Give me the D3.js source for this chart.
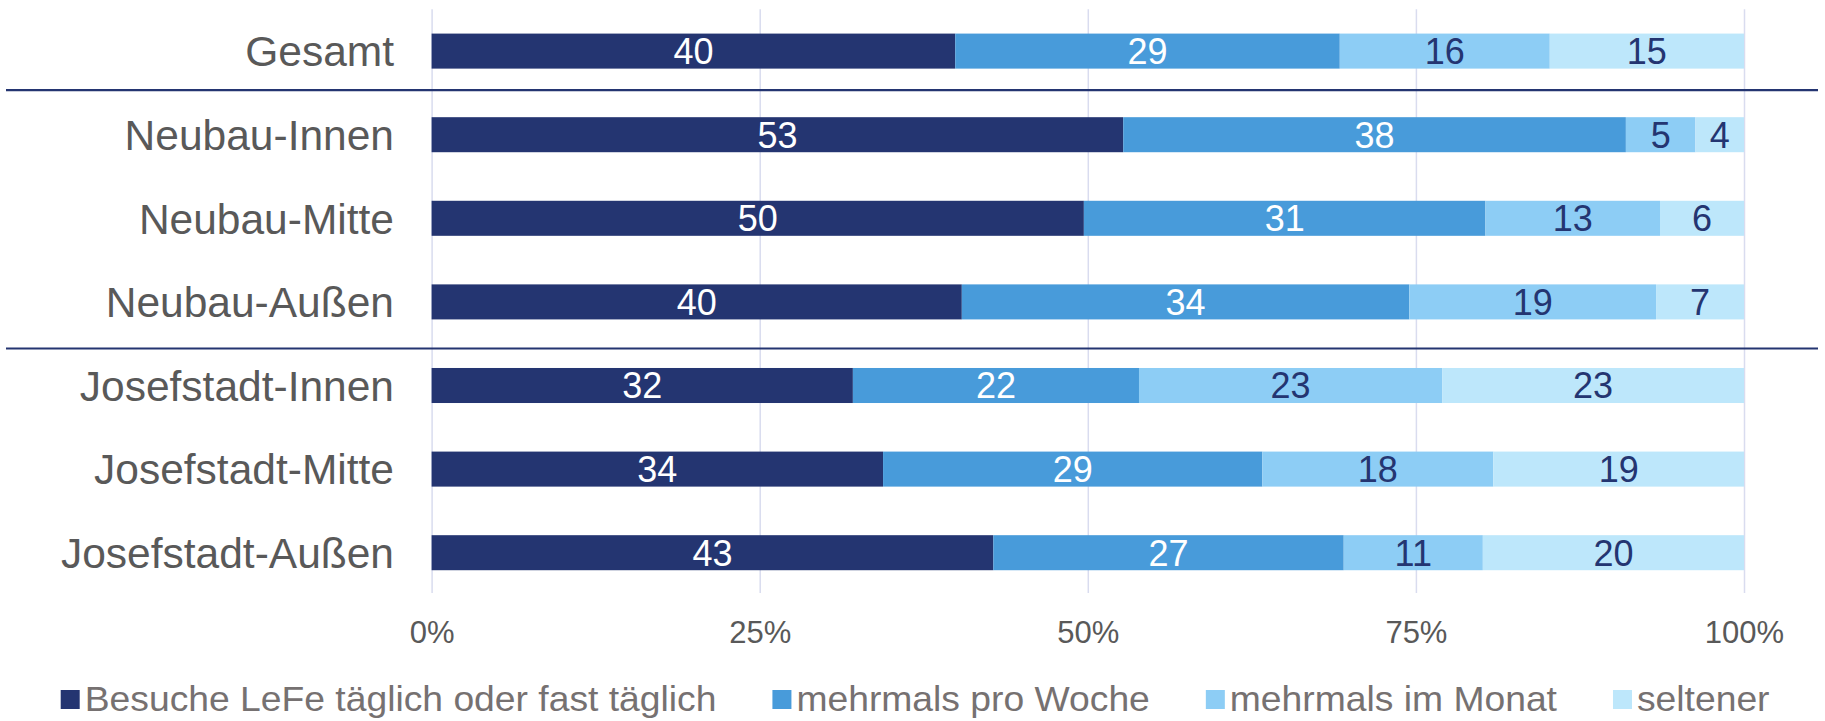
<!DOCTYPE html>
<html><head><meta charset="utf-8">
<script src="https://cdn.jsdelivr.net/npm/d3@7"></script>
<style>
html,body{margin:0;padding:0;background:#fff;}
svg{display:block;font-family:"Liberation Sans",Arial,sans-serif;}
</style></head>
<body>
<svg id="chart" width="1825" height="721"></svg>
<script>
// ---- data ----
const categories = ["Gesamt","Neubau-Innen","Neubau-Mitte","Neubau-Außen","Josefstadt-Innen","Josefstadt-Mitte","Josefstadt-Außen"];
const seriesNames = ["Besuche LeFe täglich oder fast täglich","mehrmals pro Woche","mehrmals im Monat","seltener"];
const taeglich  = [39.9, 52.7, 49.7, 40.4, 32.1, 34.4, 42.8];
const woche     = [29.3, 38.3, 30.6, 34.1, 21.8, 28.9, 26.7];
const monat     = [16.0,  5.3, 13.3, 18.8, 23.1, 17.6, 10.6];
const seltener  = [14.8,  3.7,  6.4,  6.7, 23.0, 19.1, 19.9];
const tickValues = [0, 25, 50, 75, 100];
const groupBreaks = ["Neubau-Innen", "Josefstadt-Innen"];

// ---- style ----
const colors = ["#243571", "#489bda", "#8dcdf5", "#bde7fb"];
const labelColors = ["#ffffff", "#ffffff", "#243571", "#243571"];

const svg = d3.select("#chart");
const keys = ["s0","s1","s2","s3"];
const seriesArrays = [taeglich, woche, monat, seltener];
const rows = categories.map((c, i) => {
  const r = {cat: c};
  keys.forEach((k, j) => r[k] = seriesArrays[j][i]);
  return r;
});
const stacked = d3.stack().keys(keys)(rows);

const x = d3.scaleLinear().domain([0, 100]).range([431.6, 1744]);
const y = d3.scaleBand().domain(categories).range([9.3, 594.5]).paddingInner(0.581).paddingOuter(0.2905);
const bw = y.bandwidth();
const gridBottom = 593;

// gridlines + x axis
const xAxis = d3.axisBottom(x).tickValues(tickValues).tickFormat(d => d + "%")
  .tickSizeInner(-(gridBottom - 9.3)).tickSizeOuter(0);
const gx = svg.append("g").attr("transform", `translate(0,${gridBottom})`).call(xAxis);
gx.select(".domain").remove();
gx.selectAll(".tick line").attr("stroke", "#d9dcef").attr("stroke-width", 1.5);
gx.selectAll(".tick text").attr("y", 49.7).attr("dy", 0)
  .attr("fill", "#595959").style("font-size", "31px").style("font-family", '"Liberation Sans",Arial,sans-serif');

// separators
const step = y.step();
groupBreaks.forEach((c, i) => {
  const mid = y(c) - (step - bw) / 2;
  const yy = mid + (i === 0 ? -2.8 : 4.8);
  svg.append("line").attr("x1", 6).attr("x2", 1818).attr("y1", yy).attr("y2", yy)
    .attr("stroke", "#243571").attr("stroke-width", 2.2);
});

// bars
const layers = svg.append("g").selectAll("g").data(stacked).join("g")
  .attr("fill", (d, i) => colors[i]);
layers.selectAll("rect").data(d => d).join("rect")
  .attr("x", d => x(d[0]))
  .attr("width", d => x(d[1]) - x(d[0]))
  .attr("y", d => y(d.data.cat))
  .attr("height", bw);

// value labels
stacked.forEach((layer, i) => {
  svg.append("g").selectAll("text").data(layer).join("text")
    .attr("x", d => (x(d[0]) + x(d[1])) / 2)
    .attr("y", d => y(d.data.cat) + bw / 2)
    .attr("dy", "0.36em")
    .attr("text-anchor", "middle")
    .attr("fill", labelColors[i])
    .style("font-size", "36px")
    .text(d => Math.round(d[1] - d[0]));
});

// category labels
svg.append("g").selectAll("text").data(categories).join("text")
  .attr("x", 394)
  .attr("y", d => y(d) + bw / 2)
  .attr("dy", "0.36em")
  .attr("text-anchor", "end")
  .attr("fill", "#595959")
  .style("font-size", "42.5px")
  .text(d => d);

// legend
const legend = svg.append("g");
let lx = 60.7;
const ly = 699.5;
const sq = 19;
const stretch = 1.065;
seriesNames.forEach((name, i) => {
  legend.append("rect").attr("x", lx).attr("y", ly - sq / 2).attr("width", sq).attr("height", sq).attr("fill", colors[i]);
  const tx = lx + sq + 5;
  const t = legend.append("text")
    .attr("transform", `translate(${tx},${ly + 11}) scale(${stretch},1)`)
    .attr("fill", "#767171")
    .style("font-size", "35px")
    .text(name);
  const w = t.node().getComputedTextLength() * stretch;
  lx = tx + w + 56;
});
</script>
</body></html>
